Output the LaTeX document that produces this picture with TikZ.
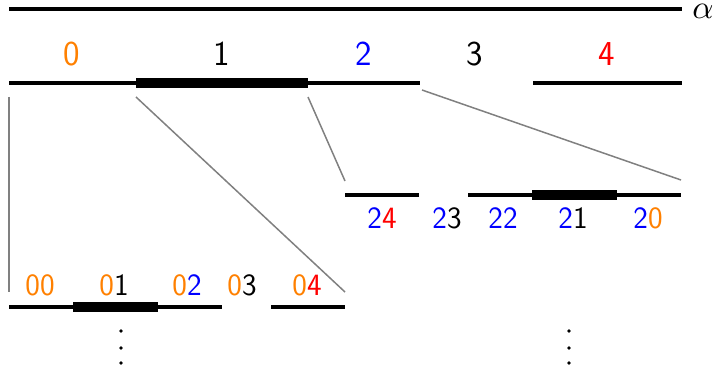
\documentclass[tikz,border=0pt]{standalone}
\usepackage{xcolor}
\begin{document}
\begin{tikzpicture}[x=1pt,y=-1pt,
  seg/.style={line width=3.3pt},
  bar/.style={line width=10pt},
  link/.style={gray,line width=1.5pt},
  lbig/.style={inner sep=0pt,font=\sffamily\fontsize{35}{40}\selectfont},
  lsmall/.style={inner sep=0pt,font=\sffamily\fontsize{31}{36}\selectfont},
  dotv/.style={circle,fill=black,inner sep=0pt,minimum size=3.6pt}]
\useasboundingbox (0,0) rectangle (717,377);
% top line
\coordinate (t0) at (9,9); \coordinate (t1) at (682,9);
\draw[seg] (t0) -- (t1);
\node[inner sep=0pt,scale=3.3] (alpha) at (703,11) {$\alpha$};
% level 1
\coordinate (a0) at (9,83); \coordinate (a1) at (420,83);
\coordinate (a2) at (533,83); \coordinate (a3) at (682,83);
\coordinate (ab0) at (136,83); \coordinate (ab1) at (308,83);
\draw[seg] (a0) -- (a1);
\draw[seg] (a2) -- (a3);
\draw[bar] (ab0) -- (ab1);
\node[lbig,orange] (l0) at (72,54) {0};
\node[lbig] (l1) at (222,54) {1};
\node[lbig,blue] (l2) at (364,54) {2};
\node[lbig] (l3) at (475,54) {3};
\node[lbig,red] (l4) at (607,54) {4};
% level 2 (right)
\coordinate (b0) at (345,195); \coordinate (b1) at (419,195);
\coordinate (b2) at (468,195); \coordinate (b3) at (681,195);
\coordinate (bb0) at (532,195); \coordinate (bb1) at (617,195);
\draw[seg] (b0) -- (b1);
\draw[seg] (b2) -- (b3);
\draw[bar] (bb0) -- (bb1);
\node[lsmall] (m24) at (382,218) {{\color{blue}2}{\color{red}4}};
\node[lsmall] (m23) at (447,218) {{\color{blue}2}3};
\node[lsmall] (m22) at (503,218) {{\color{blue}2}{\color{blue}2}};
\node[lsmall] (m21) at (573,218) {{\color{blue}2}1};
\node[lsmall] (m20) at (648,218) {{\color{blue}2}{\color{orange}0}};
% level 3 (left)
\coordinate (c0) at (9,307); \coordinate (c1) at (222,307);
\coordinate (c2) at (271,307); \coordinate (c3) at (345,307);
\coordinate (cb0) at (73,307); \coordinate (cb1) at (158,307);
\draw[seg] (c0) -- (c1);
\draw[seg] (c2) -- (c3);
\draw[bar] (cb0) -- (cb1);
\node[lsmall] (n00) at (40,285) {{\color{orange}0}{\color{orange}0}};
\node[lsmall] (n01) at (114,285) {{\color{orange}0}1};
\node[lsmall] (n02) at (187,285) {{\color{orange}0}{\color{blue}2}};
\node[lsmall] (n03) at (242,285) {{\color{orange}0}3};
\node[lsmall] (n04) at (307,285) {{\color{orange}0}{\color{red}4}};
% gray links
\coordinate (g0) at (9,97); \coordinate (g0e) at (9,292);
\coordinate (g1) at (136,97); \coordinate (g1e) at (345,292);
\coordinate (g2) at (308,97); \coordinate (g2e) at (345,181);
\coordinate (g3) at (422,90); \coordinate (g3e) at (681,180);
\draw[link] (g0) -- (g0e);
\draw[link] (g1) -- (g1e);
\draw[link] (g2) -- (g2e);
\draw[link] (g3) -- (g3e);
% dots
\node[dotv] (d1) at (121,331) {};
\node[dotv] (d2) at (121,348) {};
\node[dotv] (d3) at (121,363) {};
\node[dotv] (e1) at (569,331) {};
\node[dotv] (e2) at (569,348) {};
\node[dotv] (e3) at (569,363) {};
\end{tikzpicture}
\end{document}
